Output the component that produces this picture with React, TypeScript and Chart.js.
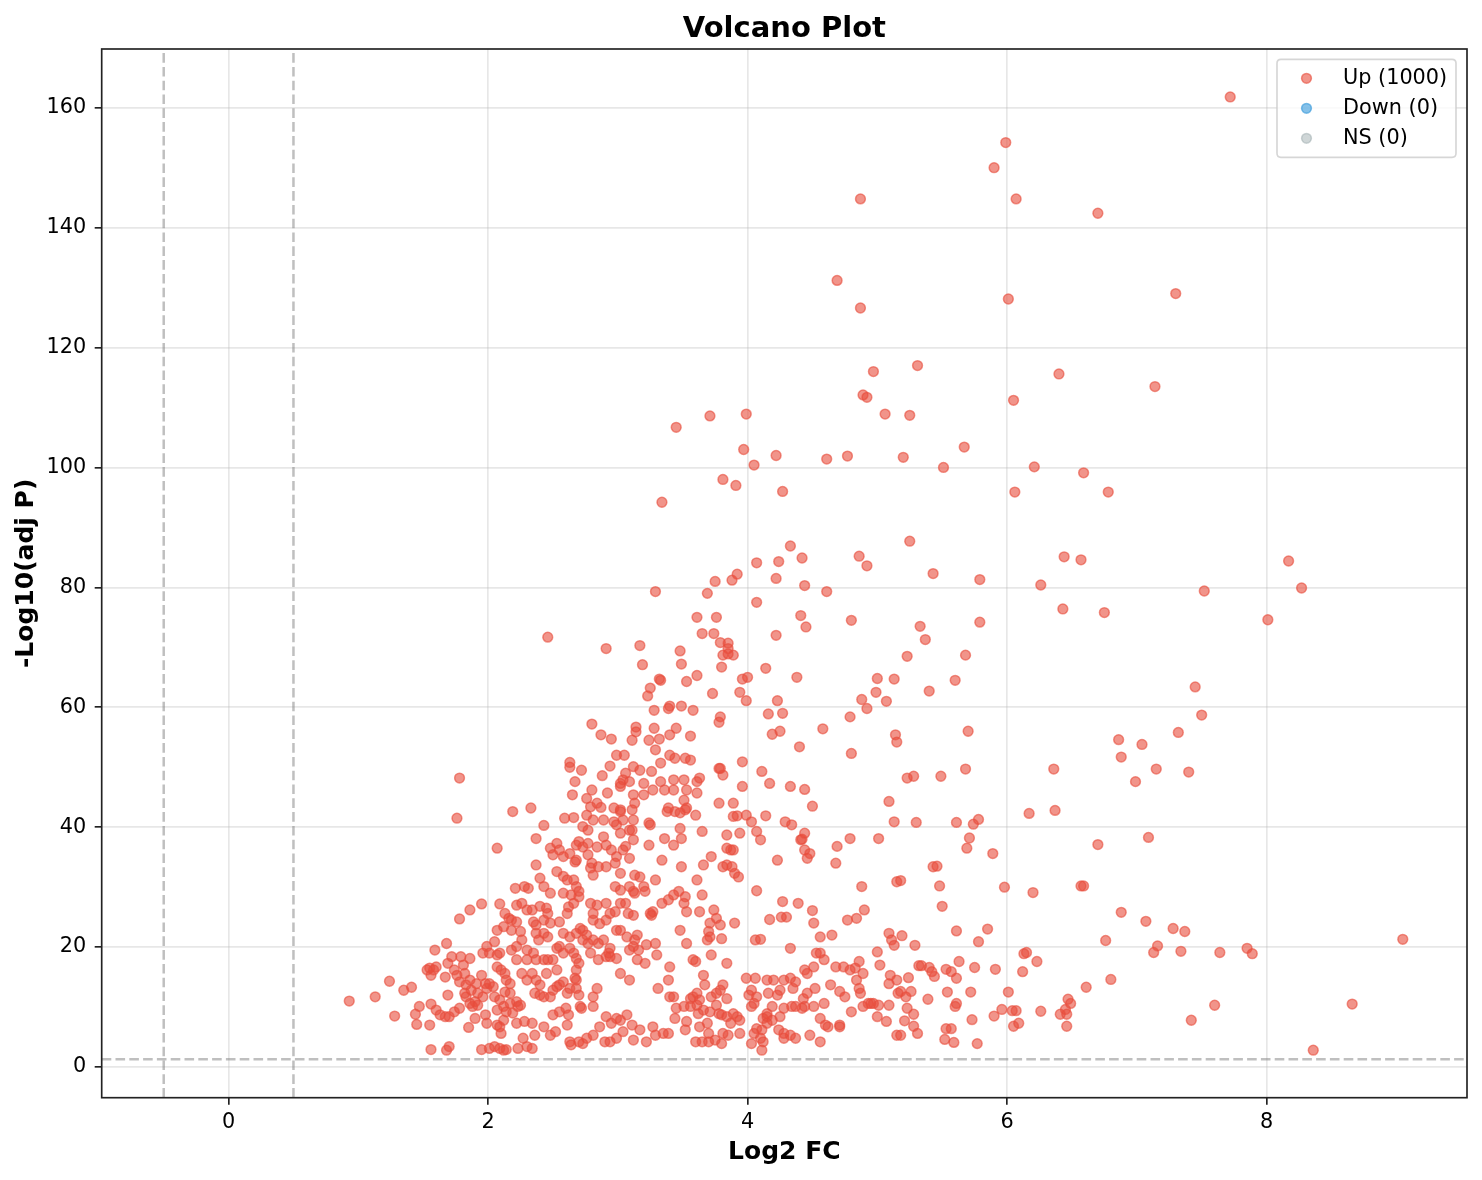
import React, { useEffect, useRef } from "react";
import { Chart, registerables } from "chart.js";

Chart.register(...registerables);

type Pt = [number, number];

const TITLE = "Volcano Plot";
const X_LABEL = "Log2 FC";
const Y_LABEL = "-Log10(adj P)";
const X_TICKS = [0, 2, 4, 6, 8];
const Y_TICKS = [0, 20, 40, 60, 80, 100, 120, 140, 160];
const X_RANGE = [-0.978, 9.545];
const Y_RANGE = [-5.12, 169.8];
const FC_THRESHOLDS = [-0.5, 0.5];
const P_THRESHOLD = 1.3;
const LEGEND_LABELS = ["Up (1000)", "Down (0)", "NS (0)"];
const SERIES_COLORS = ["231,76,60", "52,152,219", "149,165,166"];
const SERIES_ALPHA = [0.6, 0.6, 0.45];

// Upper / sparse points (log2FC, -log10 adj P)
const UP_HIGH: Pt[] = [
  [7.72, 161.8], [5.99, 154.2], [5.9, 150.0], [4.87, 144.8], [6.07, 144.8], [6.7, 142.4], [4.69, 131.2],
  [7.3, 129.0], [6.01, 128.1], [4.87, 126.6], [5.31, 117.0], [4.97, 116.0], [6.4, 115.6], [7.14, 113.5],
  [6.05, 111.2], [6.21, 100.1], [6.59, 99.1], [6.06, 95.9], [6.78, 95.9], [6.44, 85.1], [6.57, 84.6],
  [8.17, 84.4], [6.26, 80.4], [8.27, 79.9], [7.52, 79.4], [6.43, 76.4], [6.75, 75.8], [8.01, 74.6],
  [7.45, 63.4], [7.5, 58.7], [7.32, 55.8], [6.86, 54.6], [7.04, 53.8],
  [4.89, 112.1], [4.92, 111.7], [3.71, 108.6], [3.99, 108.9], [3.45, 106.7], [5.06, 108.9], [5.25, 108.7],
  [5.67, 103.4], [5.51, 100.0], [3.97, 103.0], [4.05, 100.4], [4.22, 102.0], [4.61, 101.4], [4.77, 101.9],
  [5.2, 101.7], [3.81, 98.0], [3.91, 97.0], [4.27, 96.0], [3.34, 94.2],
  [4.33, 86.9], [4.24, 84.3], [4.07, 84.1], [4.42, 84.9], [4.86, 85.2], [4.92, 83.6], [5.25, 87.7],
  [5.43, 82.3], [5.79, 81.3], [3.92, 82.2], [3.88, 81.2], [3.75, 81.0], [4.22, 81.5], [4.44, 80.3],
  [4.61, 79.3], [3.29, 79.3], [3.69, 79.0], [4.07, 77.5], [3.61, 75.0], [3.76, 75.0], [4.41, 75.3],
  [4.45, 73.4], [4.8, 74.5], [5.33, 73.5], [5.37, 71.3], [5.79, 74.2],
  [2.46, 71.7], [2.91, 69.8], [3.17, 70.3], [3.19, 67.1], [3.65, 72.3], [3.74, 72.3], [3.79, 70.8],
  [3.85, 70.7], [3.85, 69.8], [3.81, 68.7], [3.85, 68.9], [3.89, 68.7], [4.22, 72.0], [5.23, 68.5],
  [5.68, 68.7], [3.48, 69.4], [3.49, 67.2], [3.61, 65.3], [3.53, 64.3], [3.8, 66.7], [4.14, 66.5],
  [4.38, 65.0], [5.0, 64.8], [5.13, 64.7], [5.6, 64.5], [5.4, 62.7],
  [3.32, 64.7], [3.33, 64.5], [3.25, 63.2], [3.23, 61.9], [3.73, 62.3], [3.94, 62.5], [3.96, 64.7],
  [4.0, 65.0], [3.99, 61.1], [4.23, 61.1], [4.88, 61.3], [4.92, 59.8], [4.99, 62.5], [5.07, 61.0],
  [3.28, 59.5], [3.39, 59.8], [3.4, 60.2], [3.49, 60.2], [3.58, 59.5], [3.79, 58.4], [3.78, 57.5],
  [4.16, 58.9], [4.27, 59.0], [4.79, 58.4], [5.7, 56.0],
  [2.8, 57.2], [2.87, 55.4], [2.95, 54.7], [3.14, 56.7], [3.14, 55.9], [3.11, 54.5], [3.28, 56.5],
  [3.24, 54.5], [3.32, 54.7], [3.4, 55.4], [3.45, 56.5], [3.56, 55.2], [4.19, 55.5], [4.25, 56.0],
  [4.58, 56.4], [5.14, 55.4], [5.15, 54.2],
];

// Right side (log2FC > 5.2), lower part
const UP_RIGHT: Pt[] = [
  [6.88, 51.7], [5.23, 48.2], [5.28, 48.5], [5.49, 48.5], [5.68, 49.7], [6.36, 49.7], [7.15, 49.7],
  [7.4, 49.2], [6.99, 47.6], [5.3, 40.8], [5.61, 40.8], [5.74, 40.5], [5.78, 41.3], [5.71, 38.2],
  [5.69, 36.5], [5.89, 35.6], [6.17, 42.3], [6.37, 42.8], [6.7, 37.1], [7.09, 38.3], [5.43, 33.4],
  [5.46, 33.5], [5.48, 30.2], [5.5, 26.8], [5.18, 31.1], [5.98, 30.0], [6.2, 29.1], [6.57, 30.2],
  [6.59, 30.2], [6.88, 25.8], [7.07, 24.3], [7.28, 23.1], [7.37, 22.6], [5.61, 22.7], [5.85, 23.0],
  [5.78, 20.9], [5.19, 21.9], [5.29, 20.3], [6.76, 21.1], [6.13, 18.9], [6.15, 19.1], [6.23, 17.6],
  [7.13, 19.1], [7.16, 20.2], [7.34, 19.3], [7.64, 19.1], [7.85, 19.8], [7.89, 18.9], [9.05, 21.3],
  [5.32, 16.9], [5.34, 16.9], [5.4, 16.6], [5.42, 15.9], [5.44, 15.1], [5.53, 16.3], [5.57, 15.9],
  [5.61, 14.8], [5.63, 17.6], [5.75, 16.6], [5.91, 16.3], [6.12, 15.9], [5.24, 14.9],
  [5.18, 12.6], [5.26, 12.6], [5.22, 11.7], [5.54, 12.5], [5.72, 12.5], [6.01, 12.5], [5.39, 11.3],
  [6.61, 13.3], [6.8, 14.6], [5.23, 9.8], [5.28, 8.8], [5.6, 10.1], [5.61, 10.6], [5.96, 9.6],
  [6.04, 9.4], [6.07, 9.4], [6.26, 9.3], [6.47, 11.3], [6.49, 10.6], [6.45, 9.6], [6.41, 8.8],
  [6.46, 8.8], [5.21, 7.7], [5.28, 6.8], [5.31, 5.6], [5.18, 5.3], [5.53, 6.4], [5.57, 6.4],
  [5.73, 7.9], [5.9, 8.5], [6.05, 6.8], [6.09, 7.3], [6.46, 6.8], [5.52, 4.6], [5.59, 4.1],
  [5.77, 3.9], [7.42, 7.8], [7.6, 10.3], [8.66, 10.5], [8.36, 2.8],
];

// Left dense cloud (log2FC < 3)
const UP_LEFT: Pt[] = [
  [2.99, 52.0], [2.63, 50.8], [2.63, 50.0], [2.72, 49.5], [2.94, 50.2], [2.88, 48.6],
  [2.67, 47.6], [3.02, 47.3], [2.65, 45.4], [2.8, 46.2], [2.92, 45.7],
  [2.76, 44.8], [2.84, 44.0], [2.79, 43.4], [2.87, 43.3], [2.97, 43.2], [3.02, 42.6],
  [2.76, 42.0], [2.81, 41.2], [2.89, 41.2], [2.97, 40.9], [2.99, 40.4],
  [2.73, 40.1], [2.77, 39.5], [2.59, 41.5], [2.66, 41.6], [2.43, 40.3], [2.19, 42.6], [2.33, 43.2],
  [1.78, 48.2], [1.76, 41.5],
  [2.07, 36.5], [2.37, 38.1], [2.37, 33.7], [2.48, 36.5], [2.5, 35.4], [2.53, 37.3], [2.58, 35.1],
  [2.55, 36.2], [2.63, 35.6], [2.68, 37.0], [2.7, 37.6], [2.73, 36.7], [2.77, 37.3], [2.67, 34.2],
  [2.68, 34.5], [2.77, 35.4], [2.8, 34.0], [2.79, 33.2], [2.81, 32.0],
  [2.84, 36.7], [2.89, 38.4], [2.91, 37.0], [2.95, 36.2], [2.99, 35.1],
  [2.85, 33.4], [2.91, 33.4], [2.98, 34.0], [3.02, 32.3],
  [2.4, 31.5], [2.43, 30.1], [2.48, 29.0], [2.53, 32.6], [2.58, 31.8], [2.61, 31.2], [2.66, 31.2],
  [2.68, 30.1], [2.7, 29.3], [2.21, 29.8], [2.28, 30.1], [2.31, 29.8],
  [1.78, 24.7], [1.86, 26.2], [1.95, 27.2], [2.09, 27.2], [2.22, 27.0], [2.26, 27.3], [2.3, 26.2],
  [2.13, 25.6], [2.16, 24.8], [2.18, 24.5], [2.22, 24.2],
  [2.07, 22.8], [2.12, 23.4], [2.18, 22.8], [2.25, 22.6], [2.26, 21.2], [2.35, 24.2], [2.37, 23.7],
  [2.43, 24.5], [2.46, 25.6], [2.37, 22.3], [2.39, 21.2], [2.43, 22.3], [2.46, 21.7],
  [2.34, 26.2], [2.4, 26.8], [2.45, 26.5], [2.48, 24.0], [2.55, 24.2], [2.58, 22.3], [2.63, 21.7],
  [2.68, 22.3], [2.71, 23.1], [2.61, 25.6], [2.62, 26.7], [2.66, 27.3], [2.7, 28.4], [2.58, 29.0],
  [2.64, 28.7], [2.79, 27.3], [2.81, 25.6], [2.84, 27.0],
  [2.91, 27.3], [2.94, 25.6], [2.98, 25.9], [3.02, 27.3], [2.81, 24.5], [2.86, 23.9], [2.91, 24.5],
  [2.73, 22.8], [2.76, 22.0], [2.81, 21.2], [2.85, 20.6],
  [2.89, 21.2], [2.93, 19.0], [2.94, 18.4], [2.99, 22.8], [3.02, 29.5], [2.98, 30.1],
  [1.59, 19.5], [1.68, 20.6], [1.53, 16.2], [1.55, 16.5], [1.58, 16.2], [1.56, 15.3], [1.6, 16.7],
  [1.67, 15.0], [1.69, 17.3], [1.72, 18.4],
  [1.74, 16.2], [1.76, 15.3], [1.79, 18.4], [1.81, 17.0], [1.82, 15.6], [1.86, 18.1], [1.78, 14.2],
  [1.83, 13.7], [1.86, 14.5], [1.87, 12.8], [1.91, 13.9], [1.92, 12.3],
  [1.82, 12.3], [1.86, 10.6], [1.9, 10.9], [1.88, 10.1], [1.92, 10.3], [1.96, 11.7], [1.69, 12.0],
  [1.83, 11.7],
  [1.95, 15.3], [1.98, 13.9], [1.99, 13.1], [2.01, 13.9], [2.04, 13.4], [2.05, 11.7], [2.09, 11.2],
  [2.12, 10.1],
  [1.96, 19.0], [1.99, 20.1], [2.01, 19.0], [2.05, 20.9], [2.07, 18.7], [2.09, 19.0], [2.07, 16.7],
  [2.1, 16.2], [2.13, 15.6], [2.14, 14.5], [2.17, 13.9],
  [2.18, 19.5], [2.22, 20.1], [2.22, 17.9], [2.13, 12.5], [2.17, 12.3], [2.17, 10.6], [2.22, 10.9],
  [2.23, 10.1], [2.25, 10.3],
  [2.3, 19.5], [2.3, 17.9], [2.35, 19.0], [2.37, 17.9], [2.26, 15.6], [2.3, 14.5], [2.34, 15.6],
  [2.37, 14.5], [2.4, 13.7], [2.45, 15.6],
  [2.43, 17.9], [2.46, 17.9], [2.5, 17.9], [2.53, 16.2], [2.36, 12.3], [2.4, 12.0], [2.43, 11.7],
  [2.48, 11.7], [2.5, 12.8], [2.53, 13.4], [2.55, 13.7],
  [2.58, 14.2], [2.61, 12.3], [2.63, 13.1], [2.67, 14.8], [2.68, 13.1], [2.7, 12.0], [2.68, 14.5],
  [2.58, 19.0], [2.63, 19.8], [2.66, 19.0], [2.68, 18.1], [2.7, 17.3], [2.68, 16.2], [2.53, 19.8],
  [2.55, 20.1], [2.77, 20.6], [2.79, 19.0], [2.73, 21.2],
  [2.85, 17.9], [2.91, 18.4], [2.94, 19.8], [2.99, 18.1], [2.84, 13.1], [2.81, 11.7], [2.81, 10.1],
  [2.71, 10.1], [2.72, 9.8],
  [0.93, 11.0], [1.13, 11.7], [1.24, 14.3], [1.35, 12.8], [1.41, 13.3], [1.28, 8.5], [1.44, 8.8],
  [1.47, 10.1], [1.45, 7.1], [1.55, 7.0], [1.56, 10.5], [1.56, 2.9],
  [1.6, 9.5], [1.63, 8.7], [1.67, 8.4], [1.7, 8.4], [1.74, 9.2], [1.78, 9.8], [1.68, 2.8], [1.7, 3.4],
  [1.85, 6.6], [1.9, 8.1], [1.98, 8.7], [1.99, 7.3], [1.95, 2.9], [2.01, 3.1], [2.05, 3.4], [2.09, 3.1],
  [2.12, 2.8], [2.14, 2.9],
  [2.07, 7.0], [2.09, 6.7], [2.1, 5.6], [2.12, 7.8], [2.07, 9.5], [2.14, 9.2], [2.19, 9.0], [2.22, 7.3],
  [2.28, 7.6], [2.34, 7.3],
  [2.23, 3.1], [2.27, 4.8], [2.3, 3.4], [2.34, 3.1], [2.36, 5.3], [2.43, 6.7], [2.48, 5.3], [2.52, 5.9],
  [2.5, 8.7], [2.55, 9.2], [2.6, 9.8], [2.62, 8.7], [2.61, 7.0],
  [2.63, 4.2], [2.64, 3.7], [2.7, 4.2], [2.73, 3.9], [2.81, 5.3], [2.76, 4.8], [2.86, 6.7], [2.91, 8.4],
  [2.95, 7.3], [2.99, 8.1], [2.9, 4.2], [2.94, 4.2], [2.99, 4.8],
];

// Central cloud (log2FC 3 - 5.2)
const UP_CENTER: Pt[] = [
  [3.05, 52.0], [3.29, 52.9], [3.4, 52.0], [3.44, 51.5], [3.52, 51.5], [3.56, 51.2],
  [3.12, 50.1], [3.17, 49.5], [3.06, 49.0], [3.26, 49.3], [3.33, 50.7],
  [3.04, 47.9], [3.09, 47.6], [3.02, 46.8], [3.2, 47.3], [3.33, 47.6], [3.43, 47.9], [3.51, 47.9],
  [3.61, 47.6], [3.63, 48.2], [3.27, 46.2], [3.36, 46.2], [3.43, 46.2], [3.53, 46.2], [3.61, 45.7],
  [3.12, 45.4], [3.2, 45.4], [3.13, 44.0],
  [3.51, 44.5], [3.52, 42.9], [3.38, 42.6], [3.39, 43.2], [3.53, 43.2], [3.6, 42.0], [3.44, 42.6],
  [3.48, 42.4], [3.02, 42.9], [3.11, 42.9], [3.12, 41.2], [3.04, 41.2], [3.11, 39.5], [3.24, 40.7],
  [3.25, 40.4],
  [3.78, 49.8], [3.79, 49.8], [3.81, 48.7], [3.96, 50.9], [4.11, 49.3], [4.17, 47.3], [4.33, 46.8],
  [4.44, 46.3], [3.96, 46.8], [4.4, 53.4], [4.8, 52.3],
  [3.78, 44.0], [3.89, 44.0], [4.5, 43.5], [3.89, 41.8], [3.92, 41.9], [3.99, 42.0], [4.03, 40.9],
  [4.14, 41.9], [4.29, 40.9], [4.34, 40.4], [5.09, 44.3], [5.13, 40.9],
  [3.02, 39.0], [3.09, 39.5], [3.12, 37.9], [3.36, 38.1], [3.43, 37.0], [3.49, 38.1], [3.48, 39.8],
  [3.06, 36.8], [3.04, 36.2], [3.09, 34.8], [3.24, 37.0],
  [3.65, 39.3], [3.72, 35.1], [3.66, 33.7], [3.84, 38.7], [3.94, 39.0], [3.84, 36.5], [3.87, 36.2],
  [3.89, 36.2], [3.81, 33.4], [3.84, 33.7], [3.88, 33.4], [3.9, 32.3], [3.93, 31.7],
  [4.07, 39.3], [4.1, 37.9], [4.23, 34.5], [4.41, 37.9], [4.44, 36.2], [4.48, 35.6], [4.46, 34.8],
  [4.68, 34.0], [4.69, 36.8], [4.79, 38.1], [5.01, 38.1], [4.88, 30.1], [5.15, 30.9],
  [3.49, 33.4], [3.34, 34.5], [3.29, 31.2], [3.2, 30.1], [3.13, 32.0], [3.17, 31.7],
  [3.09, 30.1], [3.13, 29.0], [3.06, 27.3], [3.12, 29.3],
  [3.21, 29.3], [3.34, 27.3], [3.39, 27.9], [3.43, 28.7], [3.47, 29.3], [3.52, 28.4], [3.51, 27.3],
  [3.53, 25.9], [3.63, 25.9], [3.61, 31.2], [3.65, 28.7],
  [3.74, 26.2], [3.76, 24.8], [3.71, 24.0], [3.7, 22.6], [3.69, 21.2], [3.71, 21.7], [3.8, 21.4],
  [3.79, 23.7], [3.08, 25.6], [3.12, 25.3], [3.25, 25.6], [3.27, 25.9], [3.26, 25.3],
  [3.48, 22.8], [3.53, 20.6],
  [3.02, 22.8], [3.07, 21.7], [3.15, 22.0], [3.13, 21.2], [3.12, 20.1], [3.16, 19.5], [3.22, 20.4],
  [3.29, 20.6], [3.9, 24.0], [4.06, 21.2], [4.1, 21.3], [4.33, 19.8],
  [4.07, 29.4], [4.27, 27.6], [4.39, 27.3], [4.5, 26.1], [4.51, 24.0], [4.56, 21.7], [4.65, 22.0],
  [4.26, 25.0], [4.17, 24.6], [4.3, 25.0], [4.77, 24.5], [4.84, 24.8], [4.9, 26.2], [5.09, 22.3],
  [5.11, 21.2], [5.13, 20.3], [4.42, 38.0], [4.44, 39.0],
  [3.09, 19.5], [3.15, 17.9], [3.21, 17.3], [3.3, 18.7], [3.4, 16.7], [3.58, 17.9], [3.6, 17.6],
  [3.72, 18.7], [3.84, 17.3], [3.02, 15.6], [3.09, 14.5], [3.31, 13.1], [3.39, 14.5], [3.4, 11.7],
  [3.43, 11.7],
  [3.66, 15.3], [3.67, 13.7], [3.61, 12.3], [3.56, 11.4], [3.58, 11.7], [3.63, 11.2], [3.72, 11.7],
  [3.76, 12.3], [3.79, 12.8], [3.81, 13.7], [3.84, 11.4], [3.76, 10.3],
  [3.99, 14.8], [4.06, 14.8], [4.01, 12.0], [4.03, 12.8], [4.07, 11.7], [4.15, 14.5], [4.16, 12.3],
  [4.2, 14.5], [4.23, 12.0], [4.25, 12.8], [4.28, 14.5], [4.33, 14.8],
  [4.37, 14.2], [4.35, 13.1], [4.43, 11.4], [4.46, 12.3], [4.52, 13.1], [4.46, 15.6], [4.44, 16.2],
  [4.51, 16.7], [4.56, 19.0], [4.59, 17.9], [4.53, 19.0],
  [4.64, 13.7], [4.71, 12.6], [4.75, 11.7],
  [4.68, 16.7], [4.74, 16.7], [4.79, 16.2], [4.83, 16.5], [4.86, 17.6], [4.89, 15.6], [4.84, 14.5],
  [4.86, 13.1], [4.87, 12.3],
  [4.95, 10.6], [4.97, 10.6], [5.01, 10.3], [5.09, 10.3], [5.0, 8.4], [5.07, 7.6],
  [5.0, 19.2], [5.02, 17.0], [5.1, 15.3], [5.09, 13.9], [5.15, 14.5], [5.16, 12.3], [5.15, 5.3],
  [3.02, 7.8], [3.07, 8.7], [3.11, 7.0], [3.04, 5.9], [3.12, 4.5], [3.17, 6.2], [3.22, 4.2], [3.27, 6.7],
  [3.29, 5.3], [3.35, 5.6], [3.39, 5.6],
  [3.44, 8.1], [3.52, 6.2], [3.53, 7.6], [3.62, 8.9], [3.63, 6.7], [3.69, 7.3], [3.7, 5.6], [3.6, 4.2],
  [3.65, 4.2], [3.7, 4.2], [3.75, 4.5], [3.8, 3.9], [3.81, 5.6], [3.85, 5.3], [3.87, 7.3],
  [3.45, 9.8], [3.51, 10.1], [3.56, 10.1], [3.61, 10.3], [3.66, 9.5], [3.71, 9.2], [3.78, 8.9],
  [3.8, 8.7], [3.84, 8.4], [3.89, 8.9], [3.92, 8.4], [3.94, 7.8],
  [3.94, 5.6], [4.03, 3.9], [4.05, 5.6], [4.07, 6.4], [4.11, 6.2], [4.15, 7.3], [4.15, 8.4], [4.11, 2.8],
  [4.12, 4.2], [4.1, 4.8], [4.19, 7.8], [4.24, 6.2], [4.28, 5.6], [4.33, 5.3], [4.37, 4.8], [4.28, 4.8],
  [4.48, 5.3], [4.56, 4.2], [4.56, 8.1], [4.6, 7.0], [4.62, 6.7], [4.71, 6.7], [4.71, 7.0],
  [4.03, 10.1], [4.05, 10.6], [4.12, 8.1], [4.15, 8.9], [4.19, 10.1], [4.25, 8.4], [4.28, 9.8],
  [4.34, 10.1], [4.37, 10.1], [4.42, 9.8], [4.44, 10.1], [4.51, 10.1], [4.59, 10.6],
  [4.8, 9.2], [4.89, 10.1], [4.93, 10.6],
];

const DOWN_POINTS: Pt[] = [];
const NS_POINTS: Pt[] = [];

const FONT = "'DejaVu Sans', 'Liberation Sans', sans-serif";

function rgba(rgb: string, a: number) {
  return `rgba(${rgb},${a})`;
}

export default function App() {
  const canvasRef = useRef<HTMLCanvasElement | null>(null);

  useEffect(() => {
    document.body.style.margin = "0";
    const canvas = canvasRef.current;
    if (!canvas) return;

    const toXY = (pts: Pt[]) => pts.map(([x, y]) => ({ x, y }));
    const upPoints = [...UP_LEFT, ...UP_CENTER, ...UP_RIGHT, ...UP_HIGH];
    const seriesData = [upPoints, DOWN_POINTS, NS_POINTS];

    const datasets = LEGEND_LABELS.map((label, i) => ({
      label,
      data: toXY(seriesData[i]),
      backgroundColor: rgba(SERIES_COLORS[i], SERIES_ALPHA[i]),
      borderColor: rgba(SERIES_COLORS[i], SERIES_ALPHA[i]),
      borderWidth: 1.5,
      pointRadius: 4.9,
      pointHoverRadius: 4.9,
    }));

    const overlay = {
      id: "overlay",
      afterDatasetsDraw(chart: any) {
        const { ctx, chartArea: a, scales } = chart;
        ctx.save();
        ctx.beginPath();
        ctx.rect(a.left, a.top, a.right - a.left, a.bottom - a.top);
        ctx.clip();
        ctx.strokeStyle = "rgba(128,128,128,0.5)";
        ctx.lineWidth = 2.5;
        ctx.setLineDash([9.6, 4.2]);
        FC_THRESHOLDS.forEach((v) => {
          const px = scales.x.getPixelForValue(v);
          ctx.beginPath();
          ctx.moveTo(px, a.bottom);
          ctx.lineTo(px, a.top);
          ctx.stroke();
        });
        const py = scales.y.getPixelForValue(P_THRESHOLD);
        ctx.beginPath();
        ctx.moveTo(a.left, py);
        ctx.lineTo(a.right, py);
        ctx.stroke();
        ctx.restore();
      },
      afterDraw(chart: any) {
        const { ctx, chartArea: a } = chart;
        ctx.save();
        // frame
        ctx.strokeStyle = "#222";
        ctx.lineWidth = 1.67;
        ctx.strokeRect(a.left, a.top, a.right - a.left, a.bottom - a.top);
        // title, centred over the plot area
        ctx.fillStyle = "#000";
        ctx.font = `bold 29px ${FONT}`;
        ctx.textAlign = "center";
        ctx.textBaseline = "alphabetic";
        ctx.fillText(TITLE, (a.left + a.right) / 2, 36.7);
        // legend
        const w = 179;
        const h = 98;
        const bx = a.right - 11 - w;
        const by = a.top + 10.3;
        const r = 4;
        ctx.beginPath();
        ctx.moveTo(bx + r, by);
        ctx.lineTo(bx + w - r, by);
        ctx.quadraticCurveTo(bx + w, by, bx + w, by + r);
        ctx.lineTo(bx + w, by + h - r);
        ctx.quadraticCurveTo(bx + w, by + h, bx + w - r, by + h);
        ctx.lineTo(bx + r, by + h);
        ctx.quadraticCurveTo(bx, by + h, bx, by + h - r);
        ctx.lineTo(bx, by + r);
        ctx.quadraticCurveTo(bx, by, bx + r, by);
        ctx.closePath();
        ctx.fillStyle = "rgba(255,255,255,0.8)";
        ctx.fill();
        ctx.strokeStyle = "rgba(204,204,204,0.8)";
        ctx.lineWidth = 1.67;
        ctx.stroke();
        chart.data.datasets.forEach((ds: any, i: number) => {
          const cy = by + 19 + i * 30;
          const cx = bx + 29.5;
          ctx.beginPath();
          ctx.arc(cx, cy, 4.9, 0, Math.PI * 2);
          ctx.fillStyle = ds.backgroundColor;
          ctx.fill();
          ctx.strokeStyle = ds.borderColor;
          ctx.lineWidth = 1.5;
          ctx.stroke();
          ctx.fillStyle = "#000";
          ctx.font = `20.8px ${FONT}`;
          ctx.textAlign = "left";
          ctx.textBaseline = "middle";
          ctx.fillText(ds.label, bx + 66, cy);
        });
        ctx.restore();
      },
    };

    const tickFont = { family: FONT, size: 20.8 };
    const gridOpts = {
      color: "rgba(176,176,176,0.3)",
      lineWidth: 1.67,
      tickColor: "#222",
      tickLength: 7,
      tickWidth: 1.67,
      drawTicks: true,
    };

    const chart = new Chart(canvas, {
      type: "scatter",
      data: { datasets: datasets as any },
      plugins: [overlay],
      options: {
        animation: false,
        responsive: true,
        maintainAspectRatio: false,
        layout: { padding: { left: 0, right: 15, top: 49, bottom: 0 } },
        plugins: {
          legend: { display: false },
          tooltip: { enabled: false },
          title: { display: false },
        },
        scales: {
          x: {
            type: "linear",
            min: X_RANGE[0],
            max: X_RANGE[1],
            grid: gridOpts as any,
            border: { display: false },
            ticks: { font: tickFont, color: "#000", padding: 5, maxRotation: 0 },
            afterBuildTicks: (scale: any) => {
              scale.ticks = X_TICKS.map((v) => ({ value: v }));
            },
            afterFit: (scale: any) => {
              scale.height = 82.3;
            },
            title: {
              display: true,
              text: X_LABEL,
              color: "#000",
              font: { family: FONT, size: 25, weight: "bold", lineHeight: 1.2 },
              padding: { top: 0, bottom: 12.7 },
            },
          },
          y: {
            type: "linear",
            min: Y_RANGE[0],
            max: Y_RANGE[1],
            grid: gridOpts as any,
            border: { display: false },
            ticks: { font: tickFont, color: "#000", padding: 8.5 },
            afterBuildTicks: (scale: any) => {
              scale.ticks = Y_TICKS.map((v) => ({ value: v }));
            },
            afterFit: (scale: any) => {
              scale.width = 101.7;
            },
            title: {
              display: true,
              text: Y_LABEL,
              color: "#000",
              font: { family: FONT, size: 25, weight: "bold", lineHeight: 1.2 },
              padding: { top: 11, bottom: 0 },
            },
          },
        },
      },
    });

    return () => chart.destroy();
  }, []);

  return (
    <div style={{ width: 1482, height: 1180, position: "relative", background: "#fff" }}>
      <canvas ref={canvasRef} />
    </div>
  );
}
